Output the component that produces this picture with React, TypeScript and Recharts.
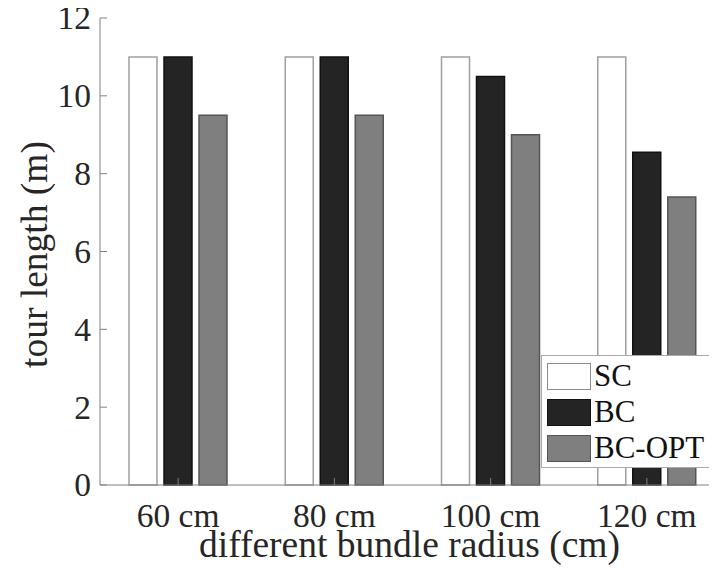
import React from "react";
import { BarChart, Bar, XAxis, YAxis, Legend } from "recharts";

const categories = ["60 cm", "80 cm", "100 cm", "120 cm"];
const scValues = [11, 11, 11, 11];
const bcValues = [11, 11, 10.5, 8.55];
const bcOptValues = [9.5, 9.5, 9, 7.4];
const yTicks = [0, 2, 4, 6, 8, 10, 12];

const FONT = "'Liberation Serif', 'Times New Roman', serif";
const TEXT = "#262626";
const AXIS = "#808080";
const TICK_LEN = 7;
const TICK_FONT = 33.5;
const LABEL_FONT = 37.5;

const SERIES = [
  { key: "sc", name: "SC", fill: "#ffffff", stroke: "#a0a0a0", legendStroke: "#8c8c8c" },
  { key: "bc", name: "BC", fill: "#242424", stroke: "#111111", legendStroke: "#111111" },
  { key: "opt", name: "BC-OPT", fill: "#7f7f7f", stroke: "#555555", legendStroke: "#555555" },
];

const data = categories.map((c, i) => ({
  name: c,
  sc: scValues[i],
  bc: bcValues[i],
  opt: bcOptValues[i],
}));

function BottomTick(props: any) {
  const { x, y, payload } = props;
  return (
    <g>
      <line x1={x} x2={x} y1={y - 18} y2={y - 18 - TICK_LEN} stroke={AXIS} />
      <text x={x} y={y} dy="0.71em" textAnchor="middle" fill={TEXT} fontSize={TICK_FONT} fontFamily={FONT}>
        {payload.value}
      </text>
    </g>
  );
}

function TopTick(props: any) {
  const { x, y } = props;
  return <line x1={x} x2={x} y1={y} y2={y + TICK_LEN} stroke={AXIS} />;
}

function LeftTick(props: any) {
  const { x, y, payload } = props;
  return (
    <g>
      <line x1={x + 9} x2={x + 9 + TICK_LEN} y1={y} y2={y} stroke={AXIS} />
      <text x={x} y={y} dy="0.34em" textAnchor="end" fill={TEXT} fontSize={TICK_FONT} fontFamily={FONT}>
        {payload.value}
      </text>
    </g>
  );
}

function RightTick(props: any) {
  const { x, y } = props;
  return <line x1={x - TICK_LEN} x2={x} y1={y} y2={y} stroke={AXIS} />;
}

function YLabel(props: any) {
  const { viewBox } = props;
  const cx = viewBox.x + 39;
  const cy = viewBox.y + viewBox.height / 2 + 3;
  return (
    <text
      x={cx}
      y={cy}
      transform={`rotate(-90 ${cx} ${cy})`}
      textAnchor="middle"
      fill={TEXT}
      fontSize={LABEL_FONT}
      fontFamily={FONT}
    >
      tour length (m)
    </text>
  );
}

function XLabel(props: any) {
  const { viewBox } = props;
  const cx = viewBox.x + viewBox.width / 2 - 3;
  const y = viewBox.y + 72;
  return (
    <text x={cx} y={y} textAnchor="middle" fill={TEXT} fontSize={LABEL_FONT} fontFamily={FONT}>
      different bundle radius (cm)
    </text>
  );
}

function LegendBox() {
  return (
    <div
      style={{
        background: "#fff",
        border: "1px solid #a8a8a8",
        padding: "2px 4px 2px 5px",
        fontFamily: FONT,
        fontSize: 31,
        color: "#111",
        boxSizing: "border-box",
        width: 170,
        height: 113,
        whiteSpace: "nowrap",
        overflow: "hidden",
      }}
    >
      {SERIES.map((s) => (
        <div key={s.key} style={{ display: "flex", alignItems: "center", height: 36 }}>
          <span
            style={{
              display: "inline-block",
              flex: "0 0 44px",
              width: 44,
              height: 27,
              background: s.fill,
              border: `1.5px solid ${s.legendStroke}`,
              boxSizing: "border-box",
              marginRight: 3,
            }}
          />
          <span style={{ lineHeight: "36px" }}>{s.name}</span>
        </div>
      ))}
    </div>
  );
}

export default function App() {
  return (
    <div style={{ width: 709, height: 567, overflow: "hidden" }}>
      <BarChart
        width={718}
        height={567}
        data={data}
        margin={{ top: 10, right: 0, bottom: 0, left: 0 }}
        barSize={28}
        barGap={7}
      >
        <XAxis
          dataKey="name"
          height={90}
          axisLine={{ stroke: AXIS }}
          tickLine={false}
          tickSize={0}
          tickMargin={18}
          tick={<BottomTick />}
          interval={0}
          label={<XLabel />}
        />
        <XAxis
          xAxisId="top"
          dataKey="name"
          orientation="top"
          height={0}
          axisLine={{ stroke: AXIS }}
          tickLine={false}
          tickSize={0}
          tickMargin={0}
          tick={<TopTick />}
          interval={0}
        />
        <YAxis
          width={92}
          domain={[0, 12]}
          ticks={yTicks}
          axisLine={{ stroke: AXIS }}
          tickLine={false}
          tickSize={0}
          tickMargin={9}
          tick={<LeftTick />}
          label={<YLabel />}
        />
        <YAxis
          yAxisId="right"
          orientation="right"
          width={1}
          domain={[0, 12]}
          ticks={yTicks}
          axisLine={{ stroke: AXIS }}
          tickLine={false}
          tickSize={0}
          tickMargin={0}
          tick={<RightTick />}
        />
        <Legend
          content={<LegendBox />}
          layout="horizontal"
          align="center"
          verticalAlign="middle"
          wrapperStyle={{ left: 533, top: 347, width: 170 }}
        />
        {SERIES.map((s) => (
          <Bar
            key={s.key}
            dataKey={s.key}
            name={s.name}
            fill={s.fill}
            stroke={s.stroke}
            strokeWidth={1.5}
            isAnimationActive={false}
          />
        ))}
      </BarChart>
    </div>
  );
}
